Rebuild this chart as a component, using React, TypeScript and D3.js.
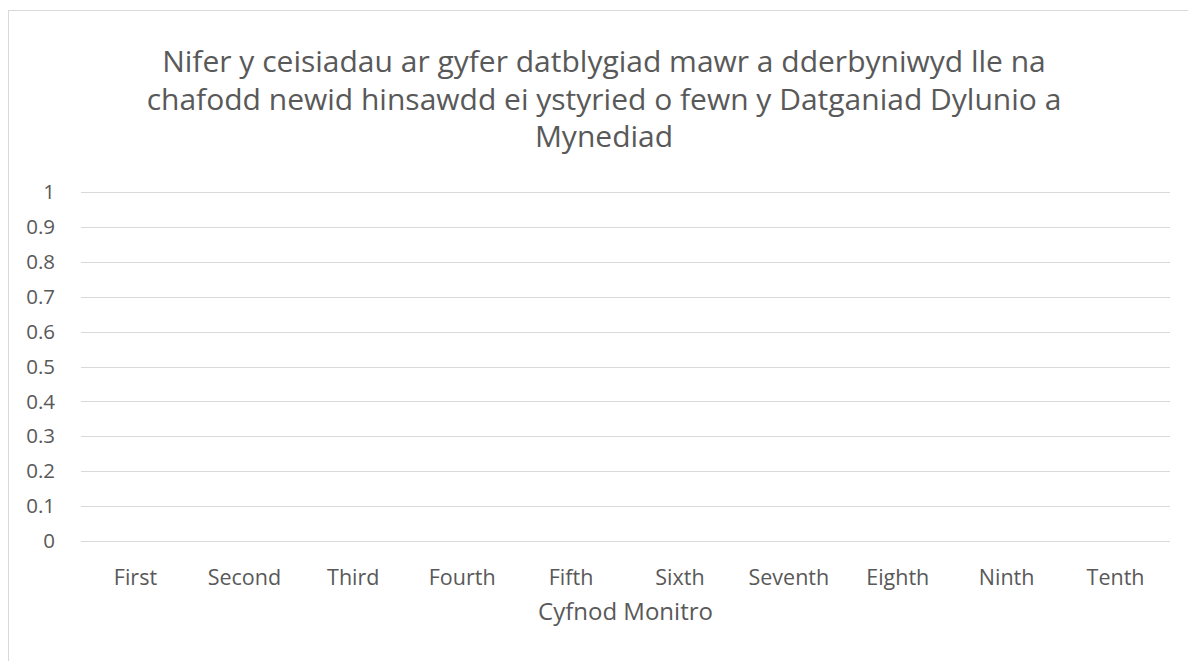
import React, { useEffect, useRef } from "react";
import * as d3 from "d3";

const titleLines = [
  "Nifer y ceisiadau ar gyfer datblygiad mawr a dderbyniwyd lle na",
  "chafodd newid hinsawdd ei ystyried o fewn y Datganiad Dylunio a",
  "Mynediad",
];
const categories = ["First", "Second", "Third", "Fourth", "Fifth", "Sixth", "Seventh", "Eighth", "Ninth", "Tenth"];
const values = [0, 0, 0, 0, 0, 0, 0, 0, 0, 0];
const yTicks = [0, 0.1, 0.2, 0.3, 0.4, 0.5, 0.6, 0.7, 0.8, 0.9, 1];
const xTitle = "Cyfnod Monitro";

const App = () => {
  const ref = useRef<SVGSVGElement>(null);

  useEffect(() => {
    const width = 1188,
      height = 661;
    const margin = { top: 192, right: 18, bottom: 120, left: 81 };
    const font = "'Segoe UI', 'Open Sans', sans-serif";
    const grey = "#595959";

    const svg = d3.select(ref.current);
    svg.selectAll("*").remove();

    // chart border (runs off the right and bottom of the window)
    svg
      .append("rect")
      .attr("x", 8.5)
      .attr("y", 10.5)
      .attr("width", 1300)
      .attr("height", 800)
      .attr("fill", "#fff")
      .attr("stroke", "#d9d9d9");

    const x = d3
      .scaleBand()
      .domain(categories)
      .range([margin.left, width - margin.right]);
    const y = d3
      .scaleLinear()
      .domain([0, 1])
      .range([height - margin.bottom, margin.top]);

    // title
    svg
      .append("g")
      .selectAll("text")
      .data(titleLines)
      .enter()
      .append("text")
      .attr("x", 604)
      .attr("y", (d, i) => 72 + i * 37.5)
      .attr("text-anchor", "middle")
      .style("font-family", font)
      .style("font-size", "30px")
      .attr("fill", grey)
      .text((d) => d);

    // gridlines
    svg
      .append("g")
      .selectAll("line")
      .data(yTicks)
      .enter()
      .append("line")
      .attr("x1", margin.left)
      .attr("x2", width - margin.right)
      .attr("y1", (d) => Math.round(y(d)) + 0.5)
      .attr("y2", (d) => Math.round(y(d)) + 0.5)
      .attr("stroke", "#d9d9d9")
      .attr("stroke-width", 1);

    // y labels
    svg
      .append("g")
      .selectAll("text")
      .data(yTicks)
      .enter()
      .append("text")
      .attr("x", 55)
      .attr("y", (d) => y(d))
      .attr("dy", "0.35em")
      .attr("text-anchor", "end")
      .style("font-family", font)
      .style("font-size", "20.5px")
      .attr("fill", grey)
      .text((d) => d3.format("~g")(d));

    // bars (all zero)
    svg
      .append("g")
      .selectAll("rect")
      .data(values)
      .enter()
      .append("rect")
      .attr("x", (d, i) => x(categories[i])! + x.bandwidth() * 0.25)
      .attr("width", x.bandwidth() * 0.5)
      .attr("y", (d) => y(d))
      .attr("height", (d) => y(0) - y(d))
      .attr("fill", "#4472c4");

    // x labels
    svg
      .append("g")
      .selectAll("text")
      .data(categories)
      .enter()
      .append("text")
      .attr("x", (d) => x(d)! + x.bandwidth() / 2)
      .attr("y", 585)
      .attr("text-anchor", "middle")
      .style("font-family", font)
      .style("font-size", "21.5px")
      .attr("fill", grey)
      .text((d) => d);

    // x axis title
    svg
      .append("text")
      .attr("x", (margin.left + width - margin.right) / 2)
      .attr("y", 620)
      .attr("text-anchor", "middle")
      .style("font-family", font)
      .style("font-size", "24px")
      .attr("fill", grey)
      .text(xTitle);
  }, []);

  return (
    <svg
      ref={ref}
      width={1188}
      height={661}
      style={{ position: "absolute", left: 0, top: 0, display: "block" }}
    />
  );
};

export default App;
